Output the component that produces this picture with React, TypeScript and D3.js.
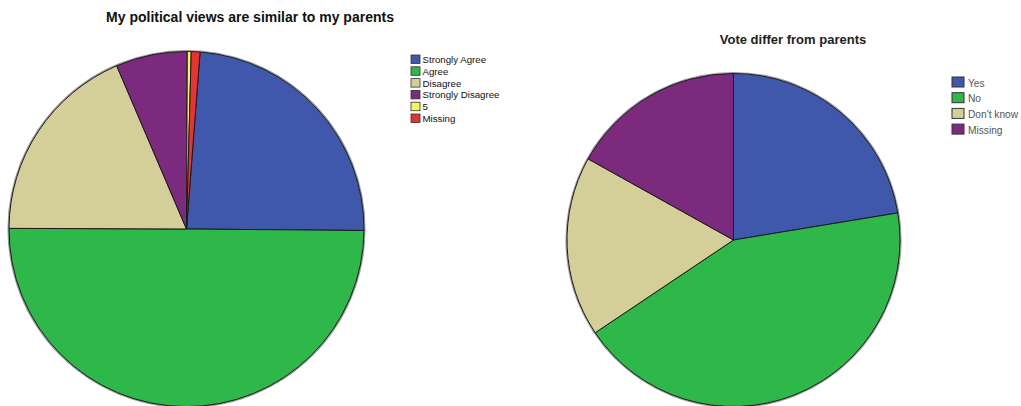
import { arc as d3Arc, pie as d3Pie, type PieArcDatum } from "d3";

// Left chart: "My political views are similar to my parents" (percent)
const viewLabels = ["Strongly Agree", "Agree", "Disagree", "Strongly Disagree", "5", "Missing"];
const viewValues = [23.9, 49.9, 18.5, 6.5, 0.35, 0.8];
const viewColors = ["#3f58ab", "#2fb84a", "#d4cf98", "#7b2a7e", "#f5f55c", "#ec3131"];

// Right chart: "Vote differ from parents" (percent)
const voteLabels = ["Yes", "No", "Don't know", "Missing"];
const voteValues = [22.4, 43.2, 17.5, 16.9];
const voteColors = ["#3f58ab", "#2fb84a", "#d4cf98", "#7b2a7e"];

const W = 1021;
const H = 406;
const FONT = "Liberation Sans, Arial, sans-serif";

interface PieProps {
  values: number[];
  colors: string[];
  cx: number;
  cy: number;
  r: number;
  startDeg: number;
}

const Pie = ({ values, colors, cx, cy, r, startDeg }: PieProps) => {
  const start = (startDeg * Math.PI) / 180;
  const slices = d3Pie<number>()
    .sort(null)
    .startAngle(start)
    .endAngle(start + 2 * Math.PI)(values);
  const arcGen = d3Arc<PieArcDatum<number>>().innerRadius(0).outerRadius(r);
  return (
    <g transform={`translate(${cx}, ${cy})`}>
      <circle r={r + 0.8} fill="none" stroke="#9a9a9a" strokeWidth={1.5} />
      {slices.map((s, i) => (
        <path
          key={i}
          d={arcGen(s) ?? ""}
          fill={colors[i]}
          stroke="#1a1a1a"
          strokeWidth={1}
          strokeLinejoin="round"
        />
      ))}
    </g>
  );
};

export default function App() {
  return (
    <svg
      width={W}
      height={H}
      viewBox={`0 0 ${W} ${H}`}
      style={{ position: "absolute", left: 0, top: 0, background: "#fff" }}
    >
      <text
        x={250}
        y={22}
        textAnchor="middle"
        fontFamily={FONT}
        fontWeight="bold"
        fontSize={14}
        fill="#111"
      >
        My political views are similar to my parents
      </text>
      <Pie values={viewValues} colors={viewColors} cx={186.5} cy={229} r={177.5} startDeg={4.4} />

      {viewLabels.map((label, i) => (
        <g key={label} transform={`translate(411, ${55 + i * 11.8})`}>
          <rect x={0} y={0} width={9} height={8.5} fill={viewColors[i]} stroke="#333" strokeWidth={0.8} />
          <text x={11.5} y={8} fontFamily={FONT} fontSize={9.7} fill="#111">
            {label}
          </text>
        </g>
      ))}

      <text
        x={793}
        y={44}
        textAnchor="middle"
        fontFamily={FONT}
        fontWeight="bold"
        fontSize={13}
        fill="#222"
      >
        Vote differ from parents
      </text>
      <Pie values={voteValues} colors={voteColors} cx={733.5} cy={240} r={166.5} startDeg={0} />

      {voteLabels.map((label, i) => (
        <g key={label} transform={`translate(952, ${77 + i * 15.7})`}>
          <rect x={0} y={0} width={12} height={10} fill={voteColors[i]} stroke="#333" strokeWidth={1} />
          <text x={16} y={9.5} fontFamily={FONT} fontSize={10.2} fill="#555">
            {label}
          </text>
        </g>
      ))}
    </svg>
  );
}
